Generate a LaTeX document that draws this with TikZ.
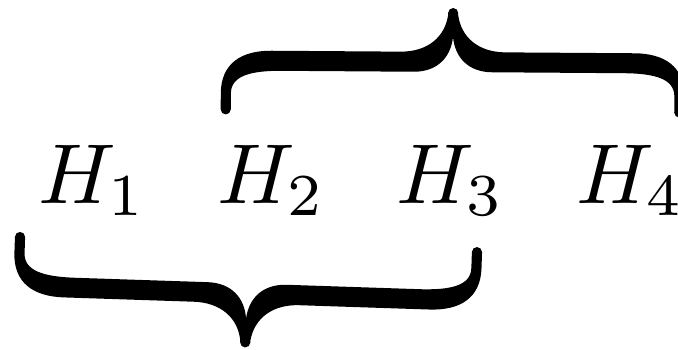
\documentclass[tikz,border=0pt]{standalone}
\begin{document}
\begin{tikzpicture}[x=1pt,y=1pt,
  lbl/.style={anchor=base west,inner sep=0pt,outer sep=0pt,scale=8.5},
  bracefill/.style={fill=black,draw=none}]
\useasboundingbox (0,0) rectangle (678,349);
\def\bracepath{%
 (-230,0) -- (-230,16) .. controls (-230,46) and (-210,59) .. (-180,59)
 -- (-52,59) .. controls (-25,59) and (-8,74) .. (-5,96) -- (-5,98)
 arc[start angle=180,end angle=0,radius=5pt]
 -- (5,96) .. controls (8,74) and (25,59) .. (52,59)
 -- (180,59) .. controls (210,59) and (230,46) .. (230,16) -- (230,0)
 arc[start angle=0,end angle=-180,radius=5pt]
 -- (220,16) .. controls (220,34) and (200,39) .. (169,39)
 -- (39,39) .. controls (15,39) and (2,54) .. (0,74)
 .. controls (-2,54) and (-15,39) .. (-39,39)
 -- (-169,39) .. controls (-200,39) and (-220,34) .. (-220,16) -- (-220,0)
 arc[start angle=0,end angle=-180,radius=5pt] -- cycle}
\node[lbl] (h1) at (38,146) {$H_1$};
\node[lbl] (h2) at (217,146) {$H_2$};
\node[lbl] (h3) at (396,146) {$H_3$};
\node[lbl] (h4) at (576,146) {$H_4$};
\begin{scope}[shift={(452.5,238)},rotate=-0.4,xscale=1.008]
  \fill[bracefill] \bracepath;
\end{scope}
\begin{scope}[shift={(248.5,104.5)},rotate=-1.9,xscale=1.016,yscale=-1]
  \fill[bracefill] \bracepath;
\end{scope}
\end{tikzpicture}
\end{document}
